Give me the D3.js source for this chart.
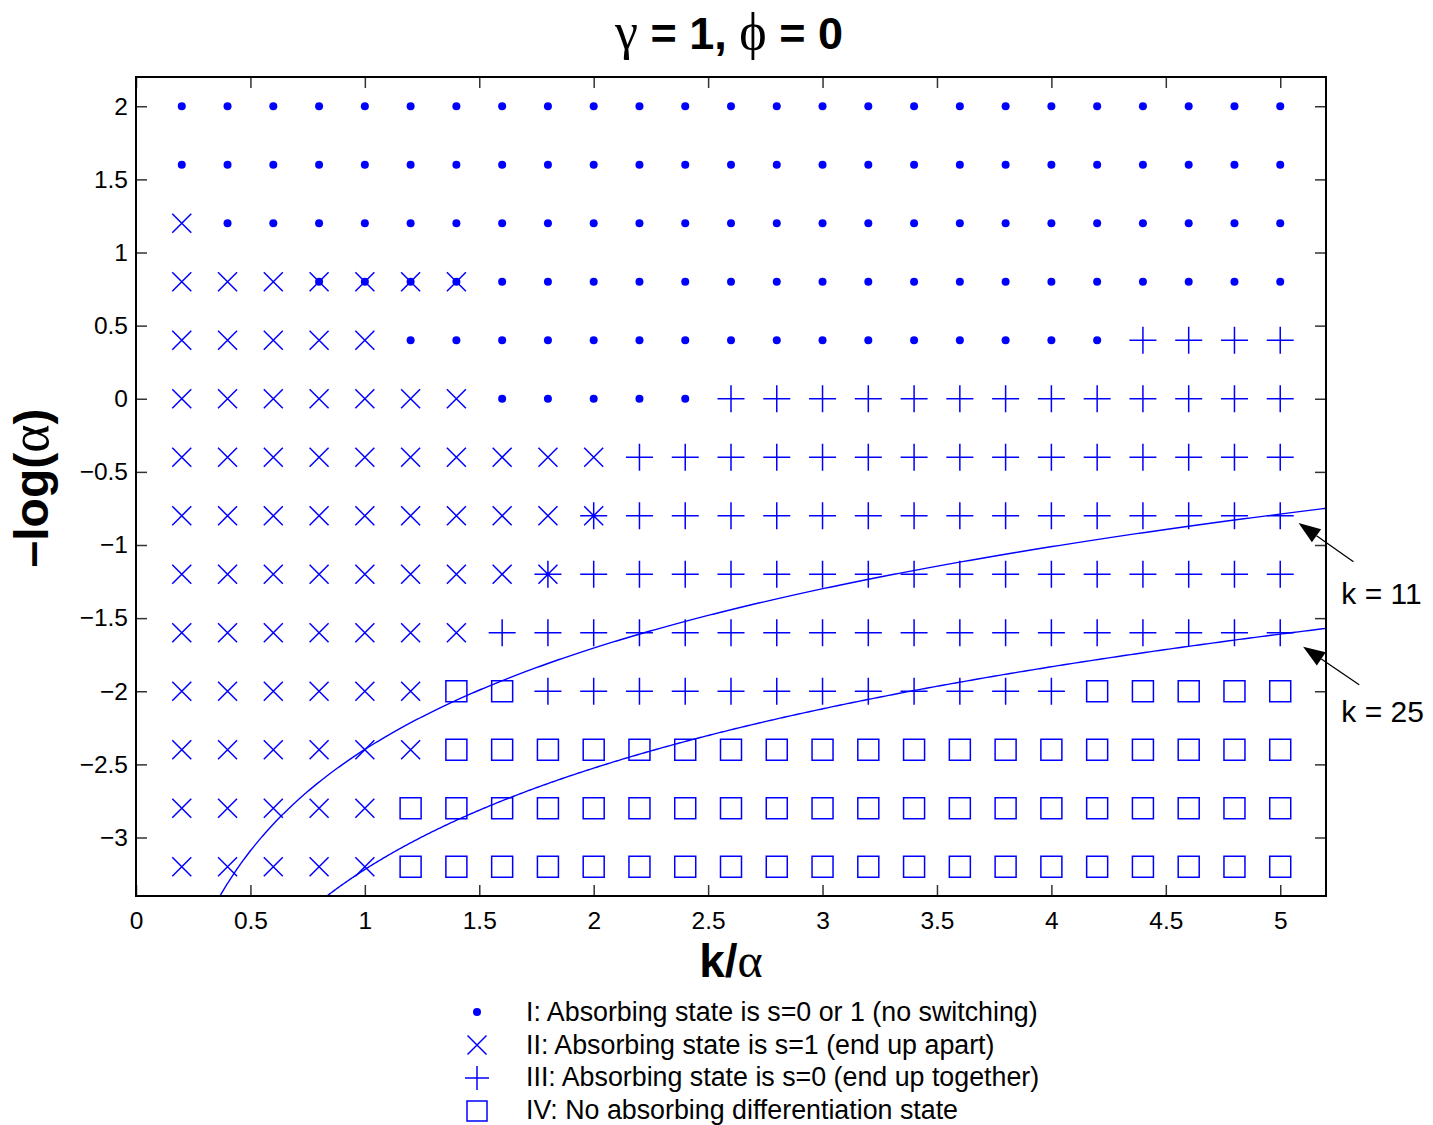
<!DOCTYPE html>
<html><head><meta charset="utf-8">
<script src="https://cdn.jsdelivr.net/npm/d3@7"></script>
<style>body{margin:0;background:#fff}svg{display:block}</style>
</head><body>
<script>
// ---- data ----
const kOverAlpha = [0.2,0.4,0.6,0.8,1.0,1.2,1.4,1.6,1.8,2.0,2.2,2.4,2.6,2.8,3.0,3.2,3.4,3.6,3.8,4.0,4.2,4.4,4.6,4.8,5.0];
const minusLogAlpha = [2,1.6,1.2,0.8,0.4,0,-0.4,-0.8,-1.2,-1.6,-2,-2.4,-2.8,-3.2];
// D: regime I (dot), X: regime II (x), P: regime III (+), S: regime IV (square),
// B: I and II overlap, A: II and III overlap.  Columns grouped in fives.
const regimeRows = [
  "DDDDD DDDDD DDDDD DDDDD DDDDD",
  "DDDDD DDDDD DDDDD DDDDD DDDDD",
  "XDDDD DDDDD DDDDD DDDDD DDDDD",
  "XXXBB BBDDD DDDDD DDDDD DDDDD",
  "XXXXX DDDDD DDDDD DDDDD DPPPP",
  "XXXXX XXDDD DDPPP PPPPP PPPPP",
  "XXXXX XXXXX PPPPP PPPPP PPPPP",
  "XXXXX XXXXA PPPPP PPPPP PPPPP",
  "XXXXX XXXAP PPPPP PPPPP PPPPP",
  "XXXXX XXPPP PPPPP PPPPP PPPPP",
  "XXXXX XSSPP PPPPP PPPPP SSSSS",
  "XXXXX XSSSS SSSSS SSSSS SSSSS",
  "XXXXX SSSSS SSSSS SSSSS SSSSS",
  "XXXXX SSSSS SSSSS SSSSS SSSSS"
];
const curveKs = [11, 25];
const xTickValues = [0,0.5,1,1.5,2,2.5,3,3.5,4,4.5,5];
const xTickLabels = ["0","0.5","1","1.5","2","2.5","3","3.5","4","4.5","5"];
const yTickValues = [-3,-2.5,-2,-1.5,-1,-0.5,0,0.5,1,1.5,2];
const yTickLabels = ["\u22123","\u22122.5","\u22122","\u22121.5","\u22121","\u22120.5","0","0.5","1","1.5","2"];
const annotations = [
  {label:"k = 11", tip:[5.08,-0.85], tail:[5.32,-1.115], text:[5.267,-1.40]},
  {label:"k = 25", tip:[5.10,-1.695], tail:[5.345,-1.955], text:[5.267,-2.21]}
];
const legendCodes = ["D","X","P","S"];
const legendLabels = [
  "I: Absorbing state is s=0 or 1 (no switching)",
  "II: Absorbing state is s=1 (end up apart)",
  "III: Absorbing state is s=0 (end up together)",
  "IV: No absorbing differentiation state"
];

// ---- drawing ----
const W = 1433, H = 1125;
const L = 136, R = 1326, T = 77, B = 896;
const SANS = "'Liberation Sans', Arial, Helvetica, sans-serif";
const SERIF = "'Liberation Serif', 'DejaVu Serif', serif";
const BLUE = "#0000ff";

const svg = d3.select("body").append("svg").attr("width", W).attr("height", H)
  .style("font-family", SANS);

const x = d3.scaleLinear().domain([0, 5.2]).range([L, R]);
const y = d3.scaleLinear().domain([-3.4, 2.2]).range([B, T]);

// title
const title = svg.append("text").attr("x", 729).attr("y", 49).attr("text-anchor", "middle")
  .attr("fill", "#000");
title.append("tspan").attr("font-family", SERIF).attr("font-size", 52).text("\u03b3");
title.append("tspan").attr("font-weight", "bold").attr("font-size", 45).text(" = 1, ");
title.append("tspan").attr("font-family", SERIF).attr("font-size", 52).text("\u03d5");
title.append("tspan").attr("font-weight", "bold").attr("font-size", 45).text(" = 0");

// axes (ticks inward on all sides)
function styleAxis(g) {
  g.select(".domain").remove();
  g.selectAll(".tick line").attr("stroke", "#333").attr("stroke-width", 1.5);
  g.selectAll(".tick text").attr("font-size", 24.5).attr("font-family", SANS).attr("fill", "#000");
}
svg.append("g").attr("transform", `translate(0,${B})`)
  .call(d3.axisBottom(x).tickValues(xTickValues).tickSize(-11).tickPadding(16)
    .tickFormat((d, i) => xTickLabels[i]))
  .call(styleAxis);
svg.append("g").attr("transform", `translate(0,${T})`)
  .call(d3.axisTop(x).tickValues(xTickValues).tickSize(-11).tickFormat(""))
  .call(styleAxis);
svg.append("g").attr("transform", `translate(${L},0)`)
  .call(d3.axisLeft(y).tickValues(yTickValues).tickSize(-11).tickPadding(8)
    .tickFormat((d, i) => yTickLabels[i]))
  .call(styleAxis);
svg.append("g").attr("transform", `translate(${R},0)`)
  .call(d3.axisRight(y).tickValues(yTickValues).tickSize(-11).tickFormat(""))
  .call(styleAxis);

// clip
svg.append("clipPath").attr("id", "clip").append("rect")
  .attr("x", L).attr("y", T).attr("width", R - L).attr("height", B - T);

// marker paths
function markerPath(code, cx, cy, s) {
  const p = d3.path();
  const cross = (h) => { p.moveTo(cx - h, cy - h); p.lineTo(cx + h, cy + h); p.moveTo(cx - h, cy + h); p.lineTo(cx + h, cy - h); };
  const plus = (h) => { p.moveTo(cx - h, cy); p.lineTo(cx + h, cy); p.moveTo(cx, cy - h); p.lineTo(cx, cy + h); };
  if (code === "X" || code === "B") cross(s.x);
  if (code === "P") plus(s.p);
  if (code === "A") { cross(s.x); plus(s.p); }
  if (code === "S") p.rect(cx - s.s / 2, cy - s.s / 2, s.s, s.s);
  return p.toString();
}
const plotSize = {x: 9.5, p: 13.5, s: 21, r: 4};
const legendSize = {x: 9.5, p: 12, s: 20, r: 4};

const cells = [];
regimeRows.forEach((row, ri) => {
  row.replace(/ /g, "").split("").forEach((code, ci) => {
    cells.push({code, kx: kOverAlpha[ci], ly: minusLogAlpha[ri]});
  });
});

const marks = svg.append("g");
marks.selectAll("path.m").data(cells.filter(c => c.code !== "D")).join("path")
  .attr("class", "m")
  .attr("d", c => markerPath(c.code, x(c.kx), y(c.ly), plotSize))
  .attr("fill", "none").attr("stroke", BLUE).attr("stroke-width", 1.5);
marks.selectAll("circle").data(cells.filter(c => c.code === "D" || c.code === "B")).join("circle")
  .attr("cx", c => x(c.kx)).attr("cy", c => y(c.ly)).attr("r", plotSize.r).attr("fill", BLUE);

// k curves: -log(alpha) = log(k/alpha) - log(k)
const line = d3.line().x(d => x(d[0])).y(d => y(d[1]));
svg.append("g").attr("clip-path", "url(#clip)").selectAll("path").data(curveKs).join("path")
  .attr("d", k => {
    const x0 = k * Math.exp(-3.45), x1 = 5.25;
    const pts = d3.range(0, 401).map(i => { const xv = x0 * Math.pow(x1 / x0, i / 400); return [xv, Math.log(xv / k)]; });
    return line(pts);
  })
  .attr("fill", "none").attr("stroke", BLUE).attr("stroke-width", 1.4);

// frame
svg.append("rect").attr("x", L).attr("y", T).attr("width", R - L).attr("height", B - T)
  .attr("fill", "none").attr("stroke", "#000").attr("stroke-width", 2);

// annotations
annotations.forEach(a => {
  const tx = x(a.tip[0]), ty = y(a.tip[1]), sx = x(a.tail[0]), sy = y(a.tail[1]);
  const ang = Math.atan2(sy - ty, sx - tx);
  const len = 22, hw = 8;
  const bx = tx + len * Math.cos(ang), by = ty + len * Math.sin(ang);
  svg.append("line").attr("x1", sx).attr("y1", sy).attr("x2", bx).attr("y2", by)
    .attr("stroke", "#000").attr("stroke-width", 1.3);
  const nx = -Math.sin(ang), ny = Math.cos(ang);
  svg.append("path")
    .attr("d", `M${tx},${ty}L${bx + nx * hw},${by + ny * hw}L${bx - nx * hw},${by - ny * hw}Z`)
    .attr("fill", "#000");
  svg.append("text").attr("x", x(a.text[0])).attr("y", y(a.text[1]))
    .attr("font-size", 30).attr("fill", "#000").text(a.label);
});

// axis labels
const xl = svg.append("text").attr("x", 731).attr("y", 977).attr("text-anchor", "middle");
xl.append("tspan").attr("font-weight", "bold").attr("font-size", 46).text("k/");
xl.append("tspan").attr("font-family", SERIF).attr("font-size", 48).text("\u03b1");

const yl = svg.append("text").attr("transform", "translate(48,488) rotate(-90)").attr("text-anchor", "middle");
yl.append("tspan").attr("font-weight", "bold").attr("font-size", 48).text("\u2013log(");
yl.append("tspan").attr("font-family", SERIF).attr("font-size", 54).text("\u03b1");
yl.append("tspan").attr("font-weight", "bold").attr("font-size", 48).text(")");

// legend
const lg = svg.append("g");
legendCodes.forEach((code, i) => {
  const cx = 477, cy = 1012 + 33 * i;
  if (code === "D") lg.append("circle").attr("cx", cx).attr("cy", cy).attr("r", legendSize.r).attr("fill", BLUE);
  else lg.append("path").attr("d", markerPath(code, cx, cy, legendSize))
    .attr("fill", "none").attr("stroke", BLUE).attr("stroke-width", 1.5);
  lg.append("text").attr("x", 526).attr("y", 1021 + 32.5 * i).attr("font-size", 26.8)
    .attr("fill", "#000").text(legendLabels[i]);
});
</script>
</body></html>
